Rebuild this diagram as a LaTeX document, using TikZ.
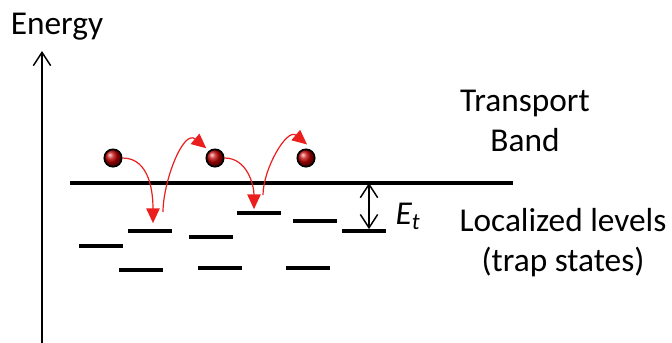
\documentclass[tikz,border=0pt]{standalone}
\usepackage{fontspec}
\setmainfont{Carlito}
\usetikzlibrary{arrows.meta, calc, shadings}
\definecolor{hopred}{RGB}{235,30,30}

\begin{document}
\begin{tikzpicture}[x=0.75pt, y=-0.75pt,
  level/.style={fill=black, inner sep=0pt, minimum width=32.5pt, minimum height=2.4pt},
  elec/.style={circle, draw=black, line width=1.3pt, inner sep=0pt, minimum size=13pt, shading=ball, ball color=red!75!black},
  hop/.style={-{Triangle[length=11pt, width=10pt]}, hopred, line width=0.9pt},
  barb/.tip={Straight Barb[length=10pt, width=13pt]},
  lbl/.style={font=\fontsize{25}{30}\selectfont, align=center, inner sep=0pt}
]
  \useasboundingbox (0,0) rectangle (672,343);

  % axis
  \coordinate (ybot) at (42,343);
  \coordinate (ytop) at (42,51);
  \draw[line width=1.1pt, -barb] (ybot) -- (ytop);
  \node[lbl] (energy) at (57,27) {Energy};

  % transport band
  \coordinate (bl) at (70,183);
  \coordinate (br) at (513,183);
  \draw[line width=2.3pt] (bl) -- (br);
  \node[lbl] (band) at (525,121) {Transport\\Band};

  % trap levels
  \node[level] (l1) at (150,231) {};
  \node[level] (l2) at (101,246) {};
  \node[level] (l3) at (141,270) {};
  \node[level] (l4) at (211,237) {};
  \node[level] (l5) at (220,268) {};
  \node[level] (l6) at (259,213) {};
  \node[level] (l7) at (315,221) {};
  \node[level] (l8) at (308,268) {};
  \node[level] (l9) at (364,231) {};
  \node[lbl] (traps) at (563,243) {Localized levels\\(trap states)};

  % trap depth
  \coordinate (etop) at (369,183);
  \draw[line width=1.1pt, barb-barb] (etop) -- (etop |- l9.north);
  \node[font=\fontsize{25}{30}\selectfont, inner sep=0pt] (et) at (408,216) {\itshape E\textsubscript{t}};

  % electrons
  \node[elec] (e1) at (113,158) {};
  \node[elec] (e2) at (215,158) {};
  \node[elec] (e3) at (306,158) {};

  \draw[hop] (e1.east) to[out=0, in=90] ($(l1.north)+(3,-6)$);
  \draw[hop] ($(l1.north)+(13,-17)$) to[out=90, in=140] ($(e2.north west)+(-2,-3)$);
  \draw[hop] (e2.east) to[out=0, in=90] ($(l6.north)+(-5,-2)$);
  \draw[hop] ($(l6.north)+(4,-16)$) to[out=90, in=140] ($(e3.north)+(1,-4)$);
\end{tikzpicture}
\end{document}
